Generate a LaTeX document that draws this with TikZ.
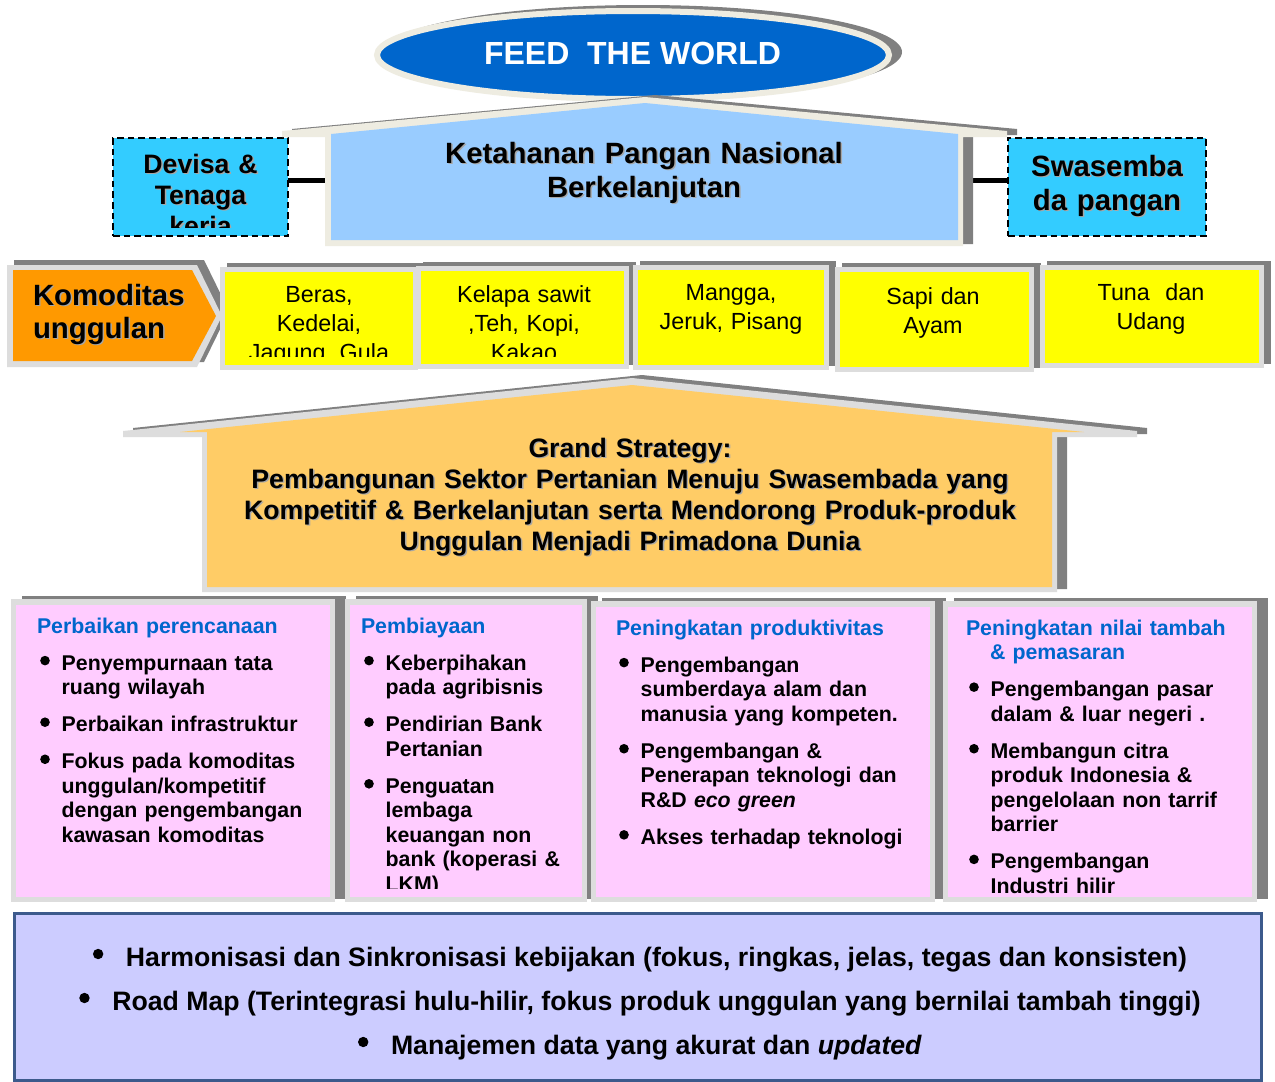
\documentclass[tikz,border=0pt]{standalone}
\usepackage{fontspec}
\setmainfont{Liberation Sans}
\usetikzlibrary{shapes.geometric,calc}
\definecolor{fwblue}{HTML}{0066CC}
\definecolor{beige}{HTML}{EEECE1}
\definecolor{lgray}{HTML}{DDDDDD}
\definecolor{sgray}{HTML}{808080}
\definecolor{ltblue}{HTML}{99CCFF}
\definecolor{cyanbox}{HTML}{33CCFF}
\definecolor{orng}{HTML}{FF9900}
\definecolor{yel}{HTML}{FFFF00}
\definecolor{gsorange}{HTML}{FFCC66}
\definecolor{pnk}{HTML}{FFCCFF}
\definecolor{lav}{HTML}{CCCCFF}
\definecolor{lavborder}{HTML}{3C5A8C}
\definecolor{hdrblue}{HTML}{0066CC}
\newcommand\myfs[2]{\fontsize{#1}{#2}\selectfont}
\newcommand\bul{\tikz[baseline=0pt]\fill[black] (3.6pt,7.1pt) circle[radius=3.6pt];}
\newcommand\bbul{\makebox[24.75pt][l]{\tikz[baseline=0pt]\fill[black] (3.9pt,9pt) circle[radius=3.9pt];}}
\newcommand\bitem[1]{\par\vspace{9.4pt}\hangindent=18.5pt\hangafter=1\noindent\makebox[18.5pt][l]{\hspace{2.4pt}\bul}#1\par}
\newcommand\yelbox[4]{%
  \fill[sgray] ({#1+7},{#2-4}) rectangle ({#3+7},{#4-4});
  \fill[lgray] (#1,#2) rectangle (#3,#4);
  \fill[yel] ({#1+5},{#2+5}) rectangle ({#3-5},{#4-5});}
\newcommand\colpanel[4]{%
  \fill[sgray] ({#1+11},{#2-3}) rectangle ({#3+11},{#4-3});
  \fill[lgray] (#1,#2) rectangle (#3,#4);
  \fill[pnk] ({#1+5},{#2+6}) rectangle ({#3-5},{#4-5});}
\tikzset{
  dashbox/.style={draw=black, line width=1.5pt, dash pattern=on 5pt off 3pt, fill=cyanbox},
  conn/.style={line width=3.75pt, black},
  tshadow/.style={text=black!35, xshift=1.1pt, yshift=-1.1pt},
  ctext/.style={anchor=base, align=center, text width=#1},
  ytext/.style={anchor=base, align=center, text width=150pt, font=\myfs{17.5}{21.75}},
  coltext/.style={anchor=base west, align=left, text width=250pt, font=\myfs{16}{18.4}\bfseries},
  btext/.style={anchor=base, font=\myfs{20}{24}\bfseries}
}
\begin{document}
\begin{tikzpicture}[x=0.75pt,y=-0.75pt, every node/.style={inner sep=0pt, outer sep=0pt}]
\useasboundingbox (0,0) rectangle (1275,1082);
\fill[white] (0,0) rectangle (1275,1082);

% ---- FEED THE WORLD ----
\node[ellipse, fill=sgray, minimum width=388.5pt, minimum height=70.5pt] (feedsh) at (643,52) {};
\node[ellipse, fill=fwblue, draw=beige, line width=4.5pt, minimum width=384pt, minimum height=66pt] (feed) at (633,55) {};
\node[anchor=base, text=white, font=\myfs{24}{28}\bfseries] (feedtxt) at (632.5,64) {FEED~~THE WORLD};

% ---- side boxes and connectors ----
\node[dashbox, minimum width=131.25pt, minimum height=73.5pt] (devisa) at (200.5,187) {};
\node[dashbox, minimum width=148.5pt, minimum height=73.5pt] (swa) at (1107,187) {};
\node[minimum width=478.5pt, minimum height=81.75pt] (ketbody) at (644,191.5) {};
\coordinate (lvl) at (0,180);
\draw[conn] (devisa.east |- lvl) -- (ketbody.west |- lvl);
\draw[conn] (ketbody.east |- lvl) -- (swa.west |- lvl);

\begin{scope}
\clip (113,138) rectangle (288,227);
\node[ctext=127.5pt, font=\myfs{20}{23.6}\bfseries, tshadow] (devisas) at (200.5,173) {Devisa \&\\Tenaga\\kerja};
\node[ctext=127.5pt, font=\myfs{20}{23.6}\bfseries] (devisatxt) at (200.5,173) {Devisa \&\\Tenaga\\kerja};
\end{scope}
\node[ctext=142.5pt, font=\myfs{22}{25.5}\bfseries, tshadow] (swas) at (1107,176) {Swasemba\\da pangan};
\node[ctext=142.5pt, font=\myfs{22}{25.5}\bfseries] (swatxt) at (1107,176) {Swasemba\\da pangan};

% ---- house 1 ----
\fill[sgray, shift={(10,-2)}] (282,131) -- (645,97) -- (1007,131) -- (1007,137) -- (963,137) -- (963,246) -- (325,246) -- (325,137) -- (282,137) -- cycle;
\fill[beige] (282,131) -- (645,97) -- (1007,131) -- (1007,137) -- (963,137) -- (963,246) -- (325,246) -- (325,137) -- (282,137) -- cycle;
\fill[ltblue] (331,134) -- (645,103) -- (958,134) -- (958,240) -- (331,240) -- cycle;
\node[ctext=450pt, font=\myfs{22}{25.5}\bfseries, tshadow] (kets) at (644,163) {Ketahanan Pangan Nasional\\Berkelanjutan};
\node[ctext=450pt, font=\myfs{22}{25.5}\bfseries] (ket) at (644,163) {Ketahanan Pangan Nasional\\Berkelanjutan};

% ---- Komoditas unggulan ----
\fill[sgray] (14,260) -- (204,260) -- (229,311) -- (204,362) -- (14,362) -- cycle;
\fill[lgray] (7,265) -- (197,265) -- (222,316) -- (197,367) -- (7,367) -- cycle;
\fill[orng] (13,270) -- (192,270) -- (216,316) -- (192,361) -- (13,361) -- cycle;
\node[anchor=base west, align=left, text width=135pt, font=\myfs{22}{24.75}\bfseries, tshadow] (koms) at (33,305) {Komoditas\\unggulan};
\node[anchor=base west, align=left, text width=135pt, font=\myfs{22}{24.75}\bfseries] (kom) at (33,305) {Komoditas\\unggulan};

% ---- yellow boxes ----
\yelbox{220}{267}{418}{370}
\yelbox{416}{266}{629}{369}
\yelbox{633}{265}{829}{370}
\yelbox{835}{267}{1034}{372}
\yelbox{1040}{265}{1264}{368}
\begin{scope}
\clip (220,267) rectangle (629,356);
\node[ytext] (y1) at (319,302) {Beras,\\Kedelai,\\Jagung, Gula};
\node[ytext] (y2) at (524,302) {Kelapa sawit\\,Teh, Kopi,\\Kakao};
\end{scope}
\node[ytext] (y3) at (731,300) {Mangga,\\Jeruk, Pisang};
\node[ytext] (y4) at (933,304) {Sapi dan\\Ayam};
\node[ytext] (y5) at (1151,300) {Tuna~~dan\\Udang};

% ---- Grand strategy house ----
\fill[sgray, shift={(10,-3)}] (123,431) -- (632,378) -- (1137,431) -- (1137,437) -- (1057,437) -- (1057,592) -- (202,592) -- (202,437) -- (123,437) -- cycle;
\fill[lgray] (123,431) -- (632,378) -- (1137,431) -- (1137,437) -- (1057,437) -- (1057,592) -- (202,592) -- (202,437) -- (123,437) -- cycle;
\fill[gsorange] (180,432) -- (632,385) -- (1084,432) -- (1052,432) -- (1052,587) -- (207,587) -- (207,432) -- cycle;
\node[ctext=630pt, font=\myfs{20}{23.25}\bfseries, tshadow] (gss) at (630,457) {Grand Strategy:\\Pembangunan Sektor Pertanian Menuju Swasembada yang\\Kompetitif \& Berkelanjutan serta Mendorong Produk-produk\\Unggulan Menjadi Primadona Dunia};
\node[ctext=630pt, font=\myfs{20}{23.25}\bfseries] (gs) at (630,457) {Grand Strategy:\\Pembangunan Sektor Pertanian Menuju Swasembada yang\\Kompetitif \& Berkelanjutan serta Mendorong Produk-produk\\Unggulan Menjadi Primadona Dunia};

% ---- four columns ----
\colpanel{11}{599}{335}{902}
\colpanel{345}{599}{587}{902}
\colpanel{591}{601}{935}{902}
\colpanel{943}{601}{1257}{902}

\node[coltext] (c1) at (37,633) {\textcolor{hdrblue}{Perbaikan perencanaan}%
\bitem{Penyempurnaan tata\newline ruang wilayah}%
\bitem{Perbaikan infrastruktur}%
\bitem{Fokus pada komoditas\newline unggulan/kompetitif\newline dengan pengembangan\newline kawasan komoditas}};

\begin{scope}
\clip (347,605) rectangle (582,888);
\node[coltext] (c2) at (361,633) {\textcolor{hdrblue}{Pembiayaan}%
\bitem{Keberpihakan\newline pada agribisnis}%
\bitem{Pendirian Bank\newline Pertanian}%
\bitem{Penguatan\newline lembaga\newline keuangan non\newline bank (koperasi \&\newline LKM)}};
\end{scope}

\node[coltext] (c3) at (616,635) {\textcolor{hdrblue}{Peningkatan produktivitas}%
\bitem{Pengembangan\newline sumberdaya alam dan\newline manusia yang kompeten.}%
\bitem{Pengembangan \&\newline Penerapan teknologi dan\newline R\&D \textit{eco green}}%
\bitem{Akses terhadap teknologi}};

\node[coltext] (c4) at (966,635) {\textcolor{hdrblue}{Peningkatan nilai tambah\newline\hspace*{18pt}\& pemasaran}%
\bitem{Pengembangan pasar\newline dalam \& luar negeri .}%
\bitem{Membangun citra\newline produk Indonesia \&\newline pengelolaan non tarrif\newline barrier}%
\bitem{Pengembangan\newline Industri hilir}};

% ---- bottom box ----
\node[draw=lavborder, line width=2.25pt, fill=lav, minimum width=935.25pt, minimum height=125.25pt] (bottom) at (637.5,996.5) {};
\node[btext] (b1) at (640,966) {\bbul Harmonisasi dan Sinkronisasi kebijakan (fokus, ringkas, jelas, tegas dan konsisten)};
\node[btext] (b2) at (640,1010) {\bbul Road Map (Terintegrasi hulu-hilir, fokus produk unggulan yang bernilai tambah tinggi)};
\node[btext] (b3) at (640,1054) {\bbul Manajemen data yang akurat dan \textit{updated}};
\end{tikzpicture}
\end{document}
